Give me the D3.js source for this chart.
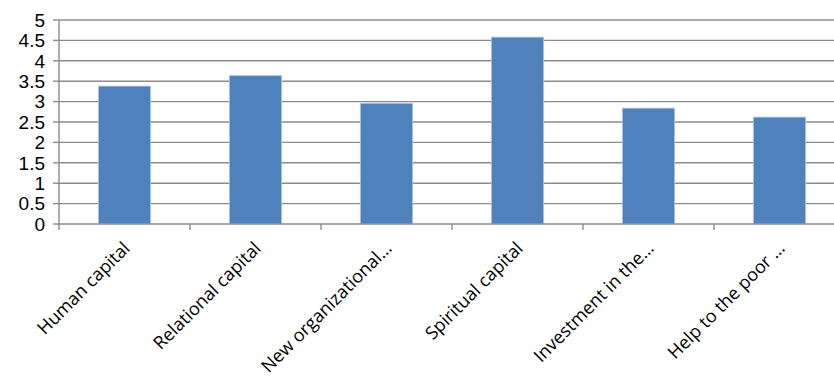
<!DOCTYPE html>
<html>
<head>
  <meta charset="utf-8">
  <title>Bar chart</title>
  <script src="https://d3js.org/d3.v7.min.js"></script>
  <style>
    body { margin: 0; background: #fff; }
  </style>
</head>
<body>
  <script>
    var categories = ['Human capital', 'Relational capital', 'New organizational…',
      'Spiritual capital', 'Investment in the…', 'Help to the poor …'];
    var values = [3.38, 3.64, 2.96, 4.58, 2.84, 2.62];
    var yTicks = [0, 0.5, 1, 1.5, 2, 2.5, 3, 3.5, 4, 4.5, 5];

    var width = 834, height = 384;
    var plotLeft = 59, plotTop = 20, plotBottom = 224, plotRight = 845;

    var svg = d3.select('body').append('svg')
      .attr('width', width)
      .attr('height', height);

    var x = d3.scaleBand().domain(categories).range([plotLeft, plotRight]).paddingInner(0.6).paddingOuter(0.3);
    var xTick = d3.scaleBand().domain(categories).range([plotLeft, plotRight]);
    var y = d3.scaleLinear().domain([0, 5]).range([plotBottom, plotTop]);

    // gridlines
    svg.append('g').selectAll('line')
      .data(yTicks.filter(function(d) { return d > 0; }))
      .enter().append('line')
      .attr('x1', plotLeft).attr('x2', width)
      .attr('y1', function(d) { return y(d); })
      .attr('y2', function(d) { return y(d); })
      .attr('stroke', '#8c8c8c')
      .attr('stroke-width', 1.4);

    // bars
    svg.append('g').selectAll('rect')
      .data(values)
      .enter().append('rect')
      .attr('x', function(d, i) { return x(categories[i]); })
      .attr('width', x.bandwidth())
      .attr('y', function(d) { return y(d); })
      .attr('height', function(d) { return y(0) - y(d); })
      .attr('fill', '#4f81bd')
      .attr('stroke', '#b8cce4')
      .attr('stroke-width', 0.8);

    // y axis
    svg.append('line')
      .attr('x1', plotLeft).attr('x2', plotLeft)
      .attr('y1', plotTop).attr('y2', plotBottom)
      .attr('stroke', '#8c8c8c').attr('stroke-width', 1.4);
    svg.append('g').selectAll('line')
      .data(yTicks)
      .enter().append('line')
      .attr('x1', plotLeft - 6).attr('x2', plotLeft)
      .attr('y1', function(d) { return y(d); })
      .attr('y2', function(d) { return y(d); })
      .attr('stroke', '#8c8c8c').attr('stroke-width', 1.4);
    svg.append('g').selectAll('text')
      .data(yTicks)
      .enter().append('text')
      .attr('x', 45)
      .attr('y', function(d) { return y(d); })
      .attr('dy', '0.36em')
      .attr('text-anchor', 'end')
      .attr('font-family', 'Liberation Sans, Arial, sans-serif')
      .attr('font-size', 19)
      .attr('fill', '#000')
      .text(function(d) { return d; });

    // x axis
    svg.append('line')
      .attr('x1', plotLeft).attr('x2', width)
      .attr('y1', plotBottom).attr('y2', plotBottom)
      .attr('stroke', '#8c8c8c').attr('stroke-width', 1.4);
    svg.append('g').selectAll('line')
      .data(categories.concat(['end']))
      .enter().append('line')
      .attr('x1', function(d, i) { return plotLeft + i * xTick.bandwidth(); })
      .attr('x2', function(d, i) { return plotLeft + i * xTick.bandwidth(); })
      .attr('y1', plotBottom).attr('y2', plotBottom + 6)
      .attr('stroke', '#8c8c8c').attr('stroke-width', 1.4);
    svg.append('g').selectAll('text')
      .data(categories)
      .enter().append('text')
      .attr('transform', function(d) {
        var cx = xTick(d) + xTick.bandwidth() / 2 + 2;
        return 'translate(' + cx + ',' + (plotBottom + 21) + ') rotate(-45)';
      })
      .attr('text-anchor', 'end')
      .attr('dy', '0.35em')
      .attr('font-family', 'Open Sans, Liberation Sans, sans-serif')
      .attr('font-size', 18)
      .attr('fill', '#000')
      .text(function(d) { return d; });
  </script>
</body>
</html>
